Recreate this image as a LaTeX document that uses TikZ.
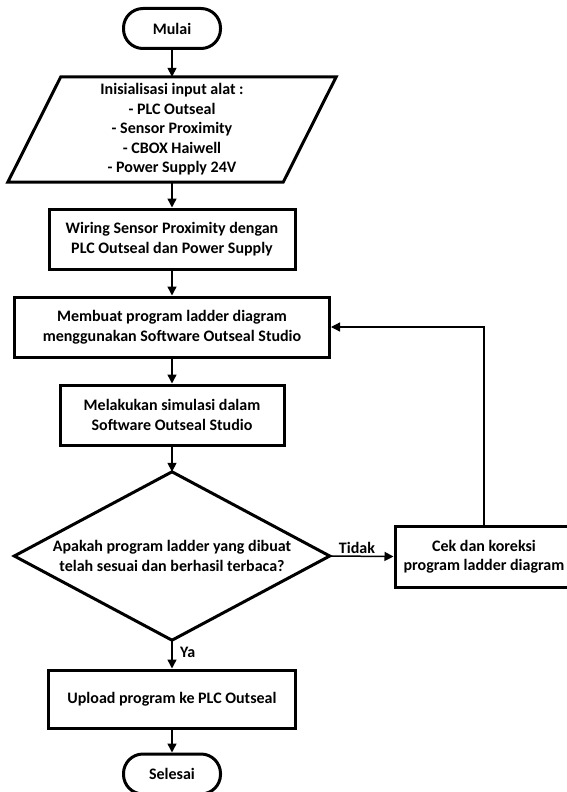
\documentclass[tikz,border=0pt]{standalone}
\usepackage{fontspec}
\setmainfont{Carlito}
\usetikzlibrary{arrows.meta,calc}
\begin{document}
\begin{tikzpicture}[x=1pt,y=-1pt,
  font=\fontsize{16}{19.5}\selectfont\bfseries,
  term/.style={draw, line width=3pt, rounded corners=19.5pt, minimum width=97pt, minimum height=40pt, inner sep=0pt},
  proc/.style={draw, line width=3pt, inner sep=0pt, align=center},
  ghost/.style={inner sep=0pt, align=center},
  arr/.style={line width=1.5pt, -{Triangle[length=9pt,width=9pt]}},
  lbl/.style={inner sep=0pt}]
\useasboundingbox (0,0) rectangle (567,792);
\node[term] (start) at (172,28.5) {Mulai};
\node[ghost, minimum width=328pt, minimum height=105pt] (io) at (172,129.5)
  {Inisialisasi input alat :\\- PLC Outseal\\- Sensor Proximity\\- CBOX Haiwell\\- Power Supply 24V};
\draw[line width=3pt, line join=miter] ($(io.north west)+(53pt,0pt)$) -- (io.north east)
  -- ($(io.south east)+(-53pt,0pt)$) -- (io.south west) -- cycle;
\node[proc, minimum width=246pt, minimum height=60pt] (wire) at (172,239)
  {Wiring Sensor Proximity dengan\\PLC Outseal dan Power Supply};
\node[proc, minimum width=315pt, minimum height=60pt] (memb) at (172,327)
  {Membuat program ladder diagram\\menggunakan Software Outseal Studio};
\node[proc, minimum width=224pt, minimum height=60pt] (mel) at (172,415)
  {Melakukan simulasi dalam\\Software Outseal Studio};
\node[ghost, minimum width=315pt, minimum height=168pt] (dec) at (172,556)
  {Apakah program ladder yang dibuat\\telah sesuai dan berhasil terbaca?};
\draw[line width=3pt, line join=miter] (dec.north) -- (dec.east) -- (dec.south) -- (dec.west) -- cycle;
\node[proc, minimum width=178pt, minimum height=61pt] (cek) at (484,556.5)
  {Cek dan koreksi\\program ladder diagram};
\node[proc, minimum width=247pt, minimum height=58pt] (upl) at (172,699)
  {Upload program ke PLC Outseal};
\node[term] (stop) at (172,774) {Selesai};
\draw[arr] (start.south) -- (io.north);
\draw[arr] (io.south) -- (wire.north);
\draw[arr] (wire.south) -- (memb.north);
\draw[arr] (memb.south) -- (mel.north);
\draw[arr] (mel.south) -- (dec.north);
\draw[arr] (dec.south) -- (upl.north);
\draw[arr] (upl.south) -- (stop.north);
\draw[arr] (dec.east) -- (cek.west);
\draw[arr, line width=1.3pt] (cek.north) |- (memb.east);
\node[lbl, anchor=west] (ya) at (180,652) {Ya};
\node[lbl] (tidak) at (357,548) {Tidak};
\end{tikzpicture}
\end{document}
